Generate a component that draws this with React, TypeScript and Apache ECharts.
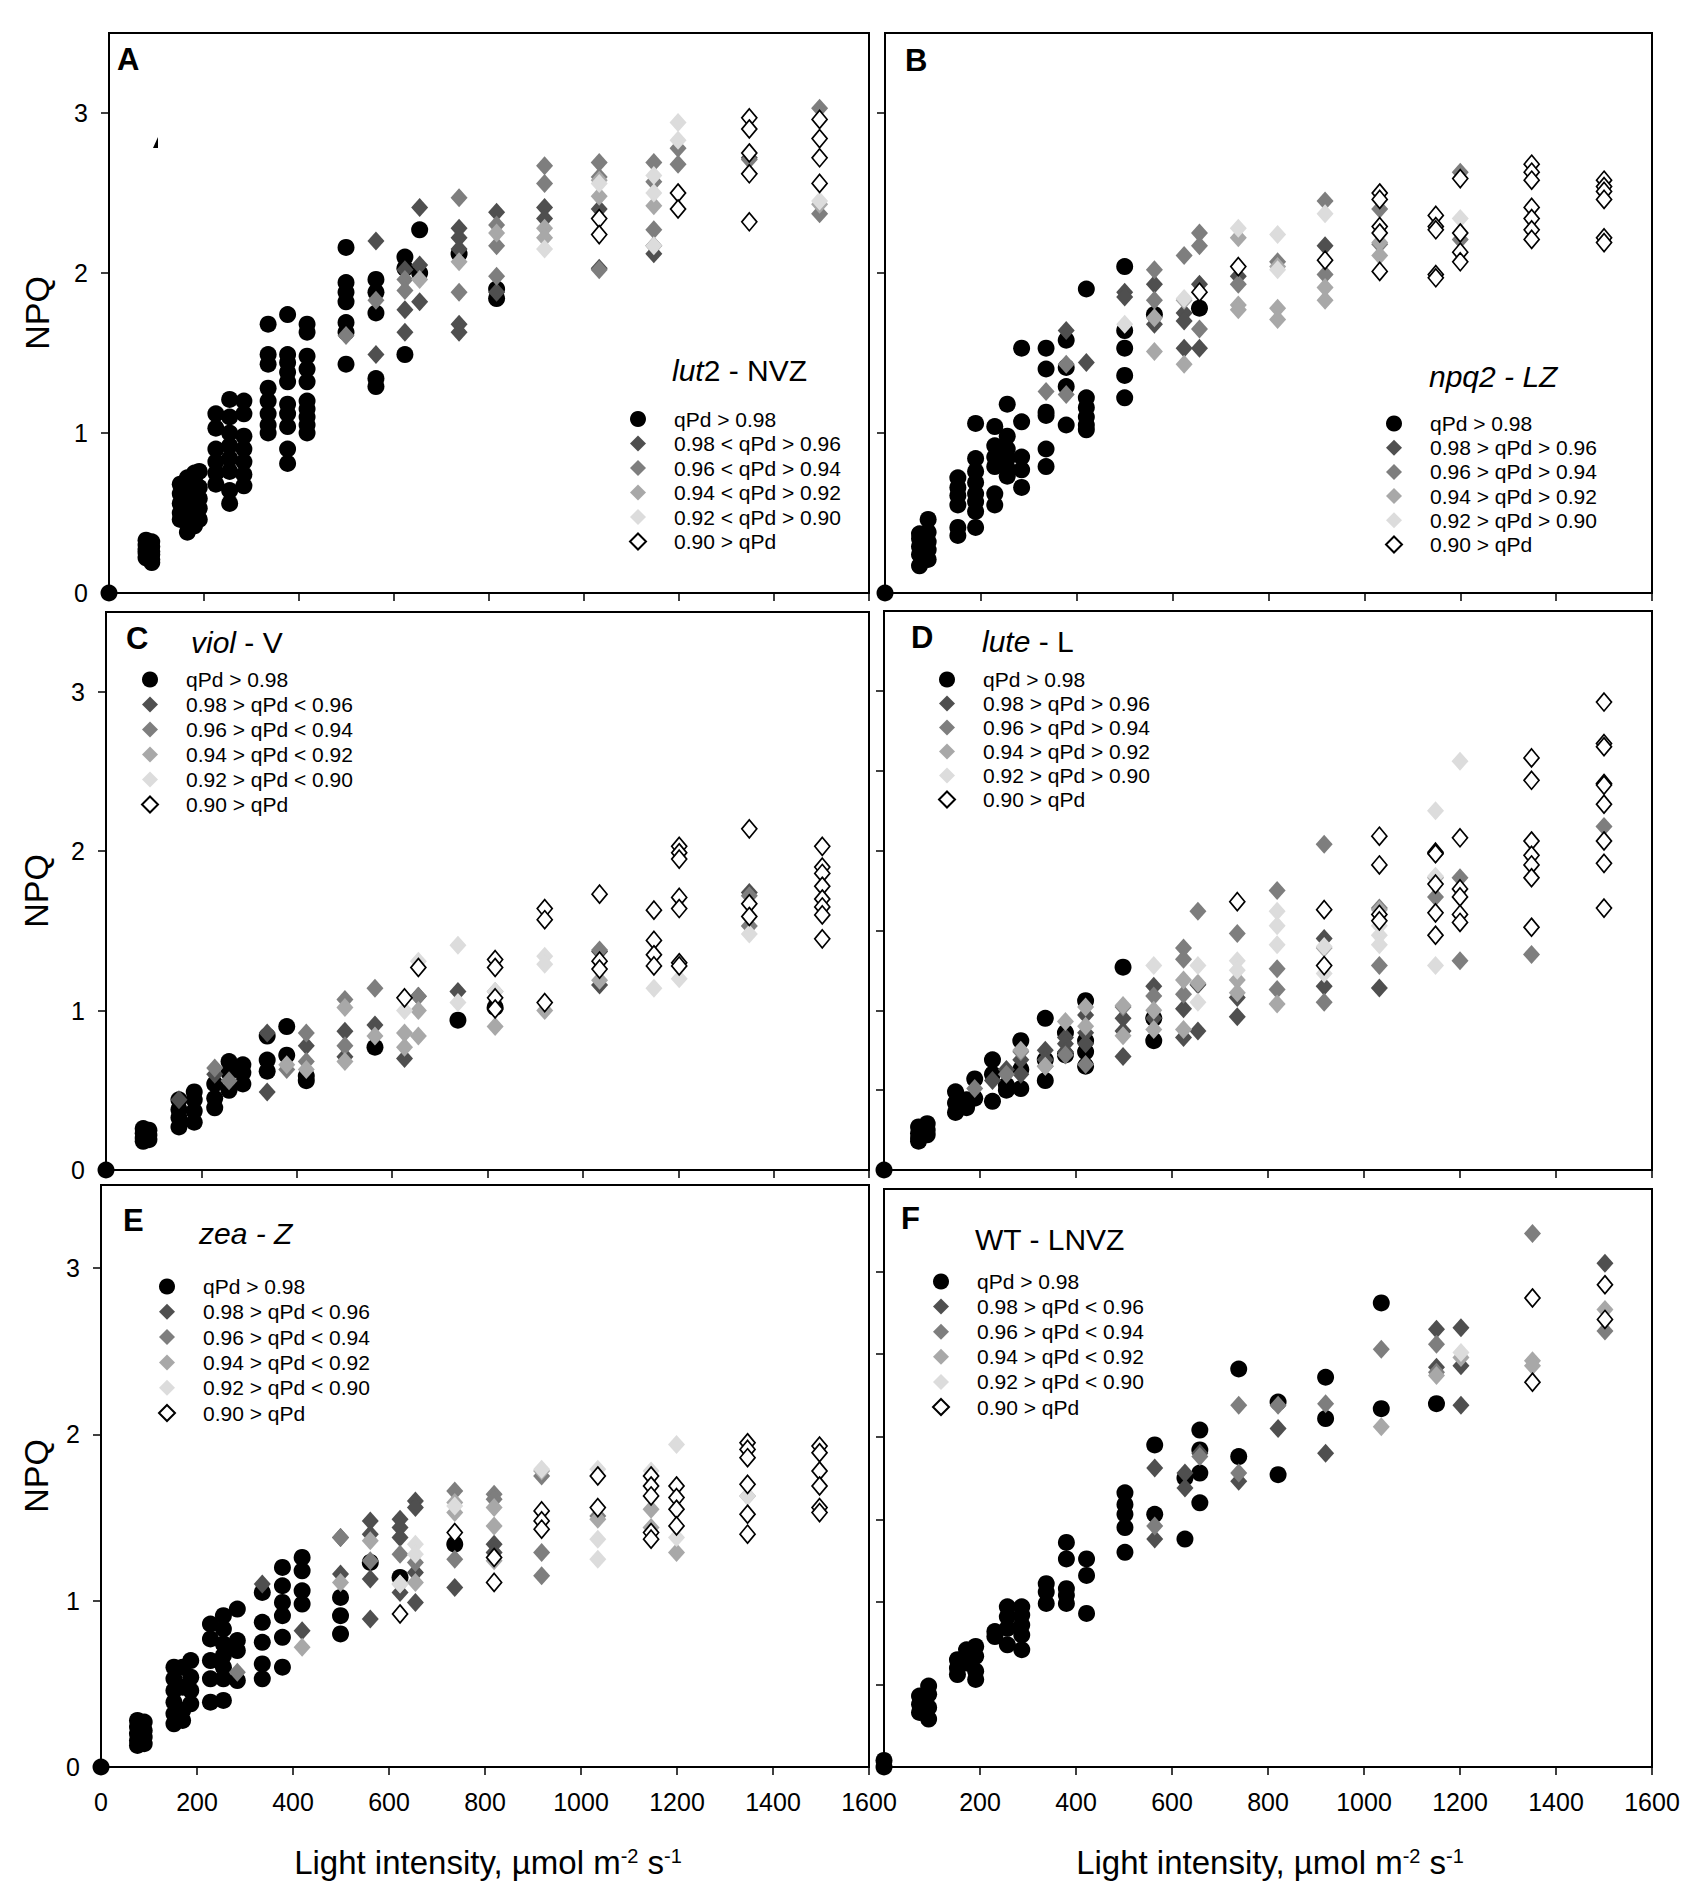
import React, { useEffect, useRef } from 'react';
import * as echarts from 'echarts';

type G = [number, number[]][];

const FONT = '"Liberation Sans", Arial, Helvetica, sans-serif';

const X_TICKS = [0, 200, 400, 600, 800, 1000, 1200, 1400, 1600];
const Y_INT = [0, 1, 2, 3];
const Y_HALF = [0, 0.5, 1, 1.5, 2, 2.5, 3];

const LEG_A = ['qPd > 0.98', '0.98 < qPd > 0.96', '0.96 < qPd > 0.94', '0.94 < qPd > 0.92', '0.92 < qPd > 0.90', '0.90 > qPd'];
const LEG_BD = ['qPd > 0.98', '0.98 > qPd > 0.96', '0.96 > qPd > 0.94', '0.94 > qPd > 0.92', '0.92 > qPd > 0.90', '0.90 > qPd'];
const LEG_CEF = ['qPd > 0.98', '0.98 > qPd < 0.96', '0.96 > qPd < 0.94', '0.94 > qPd < 0.92', '0.92 > qPd < 0.90', '0.90 > qPd'];

// ---------- Panel A : lut2 - NVZ ----------
const A_q98: G = [[0, [0]], [78, [0.33, 0.3, 0.27, 0.25, 0.22]], [90, [0.32, 0.29, 0.26, 0.24, 0.21, 0.19]],
  [150, [0.68, 0.62, 0.56, 0.5, 0.46]], [165, [0.72, 0.64, 0.58, 0.52, 0.44, 0.38]], [180, [0.75, 0.7, 0.6, 0.55, 0.48, 0.42]],
  [190, [0.76, 0.66, 0.59, 0.53, 0.46]], [225, [1.12, 1.03, 0.9, 0.82, 0.75, 0.68]], [254, [1.21, 1.1, 1.0, 0.92, 0.84, 0.76, 0.64, 0.56]],
  [284, [1.2, 1.12, 0.98, 0.9, 0.82, 0.74, 0.67]], [335, [1.68, 1.49, 1.43, 1.28, 1.2, 1.12, 1.05, 1.0]],
  [376, [1.74, 1.49, 1.44, 1.38, 1.32, 1.18, 1.12, 1.04, 0.9, 0.81]], [417, [1.68, 1.63, 1.48, 1.4, 1.32, 1.2, 1.15, 1.1, 1.05, 1.0]],
  [499, [2.16, 1.94, 1.88, 1.82, 1.69, 1.63, 1.43]], [562, [1.96, 1.88, 1.75, 1.34, 1.29]], [623, [2.1, 2.03, 1.49]],
  [654, [2.27, 2.0]], [737, [2.12]], [816, [1.9, 1.84]]];
const A_q96: G = [[562, [2.2, 1.49]], [623, [2.02, 1.77, 1.63]], [654, [2.41, 2.05, 1.82]], [737, [2.28, 2.22, 2.15, 1.68, 1.63]],
  [816, [2.38, 1.88]], [917, [2.41, 2.34]], [1032, [2.4, 2.03]], [1147, [2.17, 2.12]], [1348, [2.72]]];
const A_q94: G = [[499, [1.61]], [562, [1.83]], [623, [1.96, 1.89]], [737, [2.47, 1.88]], [816, [2.3, 2.17, 1.98]],
  [917, [2.67, 2.56]], [1032, [2.69, 2.6, 2.02]], [1147, [2.69, 2.57, 2.27]], [1198, [2.78, 2.68]], [1348, [2.71, 2.62]], [1496, [3.03, 2.37]]];
const A_q92: G = [[654, [1.96]], [737, [2.07]], [816, [2.25]], [917, [2.28, 2.22]], [1032, [2.48, 2.58]], [1147, [2.42]], [1496, [2.43]]];
const A_q90: G = [[917, [2.15]], [1032, [2.56]], [1147, [2.61, 2.5, 2.17]], [1198, [2.94, 2.83]], [1496, [2.45]]];
const A_open: G = [[1032, [2.34, 2.24]], [1198, [2.5, 2.4]], [1348, [2.97, 2.9, 2.75, 2.62, 2.32]], [1496, [2.96, 2.84, 2.72, 2.56]]];

// ---------- Panel B : npq2 - LZ ----------
const B_q98: G = [[0, [0]], [72, [0.37, 0.34, 0.29, 0.24, 0.17]], [90, [0.46, 0.38, 0.32, 0.27, 0.21]],
  [152, [0.72, 0.66, 0.61, 0.55, 0.41, 0.36]], [189, [1.06, 0.84, 0.76, 0.69, 0.62, 0.57, 0.51, 0.41]],
  [229, [1.04, 0.92, 0.85, 0.79, 0.62, 0.55]], [255, [1.18, 0.98, 0.9, 0.84, 0.78, 0.73]], [285, [1.53, 1.07, 0.85, 0.77, 0.66]],
  [336, [1.53, 1.4, 1.13, 1.11, 0.9, 0.79]], [378, [1.58, 1.41, 1.29, 1.05]], [420, [1.9, 1.22, 1.16, 1.1, 1.05, 1.02]],
  [500, [2.04, 1.64, 1.53, 1.36, 1.22]], [562, [1.74]], [656, [1.78]]];
const B_q96: G = [[378, [1.64]], [420, [1.44]], [500, [1.88, 1.85]], [562, [1.93, 1.68]], [624, [1.75, 1.7, 1.53]],
  [656, [1.93, 1.53]], [737, [1.98]], [918, [2.17]]];
const B_q94: G = [[336, [1.26]], [378, [1.43, 1.24]], [562, [2.02, 1.83]], [624, [2.11]], [656, [2.25, 2.17, 1.65]],
  [737, [1.93]], [819, [2.07]], [918, [2.45, 1.99]], [1032, [2.4, 2.18]], [1200, [2.63, 2.21]]];
const B_q92: G = [[562, [1.72, 1.51]], [624, [1.83, 1.43]], [737, [2.22, 1.8, 1.77]], [819, [2.04, 1.78, 1.71]],
  [918, [1.91, 1.83]], [1032, [2.19, 2.11]]];
const B_q90: G = [[500, [1.68]], [624, [1.84]], [737, [2.28]], [819, [2.24, 2.02]], [918, [2.37]], [1200, [2.34]]];
const B_open: G = [[656, [1.88]], [737, [2.04]], [918, [2.08]], [1032, [2.5, 2.46, 2.29, 2.25, 2.01]],
  [1149, [2.36, 2.29, 2.27, 1.99, 1.97]], [1200, [2.59, 2.25, 2.13, 2.07]], [1349, [2.68, 2.63, 2.58, 2.41, 2.34, 2.27, 2.21]],
  [1500, [2.58, 2.54, 2.51, 2.46, 2.22, 2.19]]];

// ---------- Panel C : viol - V ----------
const C_q98: G = [[0, [0]], [78, [0.26, 0.23, 0.2, 0.18]], [90, [0.25, 0.22, 0.19]], [153, [0.44, 0.38, 0.33, 0.27]],
  [185, [0.49, 0.44, 0.37, 0.3]], [228, [0.54, 0.45, 0.39]], [258, [0.68, 0.61, 0.5]], [287, [0.66, 0.61, 0.54]],
  [338, [0.84, 0.69, 0.62]], [379, [0.9, 0.72]], [420, [0.59, 0.56]], [564, [0.77]], [738, [0.94]], [816, [1.02]]];
const C_q96: G = [[153, [0.44]], [228, [0.6]], [338, [0.86, 0.49]], [420, [0.78]], [501, [0.87, 0.71]], [564, [0.91]],
  [626, [0.7]], [655, [1.09]], [738, [1.12]], [1035, [1.16, 1.37]], [1349, [1.74]]];
const C_q94: G = [[228, [0.64]], [258, [0.56]], [379, [0.63]], [420, [0.86, 0.68]], [501, [1.07, 0.78]], [564, [1.14]],
  [655, [1.09]], [1035, [1.38]], [1349, [1.72, 1.53]]];
const C_q92: G = [[379, [0.66]], [420, [0.63]], [501, [1.02, 0.68]], [564, [0.84]], [626, [0.86, 0.77]], [655, [1.0, 0.84]],
  [816, [1.12, 0.9]], [920, [1.0]], [1035, [1.19]]];
const C_q90: G = [[626, [1.0]], [655, [1.31]], [738, [1.41, 1.05]], [816, [1.12]], [920, [1.34, 1.29]], [1149, [1.14]],
  [1202, [1.2]], [1349, [1.48]]];
const C_open: G = [[626, [1.08]], [655, [1.27]], [816, [1.32, 1.27, 1.08, 1.01]], [920, [1.64, 1.57, 1.05]],
  [1035, [1.73, 1.31, 1.26]], [1149, [1.63, 1.44, 1.35, 1.28]], [1202, [2.03, 1.99, 1.95, 1.71, 1.64, 1.3, 1.28]],
  [1349, [2.14, 1.67, 1.59]], [1502, [2.03, 1.9, 1.86, 1.78, 1.7, 1.65, 1.6, 1.45]]];

// ---------- Panel D : lute - L ----------
const D_q98: G = [[0, [0]], [72, [0.27, 0.23, 0.2, 0.18]], [90, [0.29, 0.25, 0.22]], [149, [0.49, 0.42, 0.36]],
  [172, [0.44, 0.39]], [189, [0.57, 0.45]], [226, [0.69, 0.6, 0.43]], [255, [0.53, 0.5]], [285, [0.81, 0.63, 0.51]],
  [336, [0.95, 0.69, 0.56]], [378, [0.86, 0.72]], [420, [1.06, 0.81, 0.74, 0.65]], [498, [1.27]], [562, [0.95, 0.81]]];
const D_q96: G = [[226, [0.56]], [255, [0.63]], [285, [0.69, 0.6]], [336, [0.75, 0.69]], [378, [0.83, 0.79, 0.74]],
  [420, [0.97, 0.86, 0.79]], [498, [0.95, 0.87, 0.71]], [562, [1.15, 0.95]], [624, [1.01, 0.83]], [654, [1.16, 0.87]],
  [736, [1.08, 0.96]], [917, [1.45, 1.15]], [1032, [1.14]], [1149, [1.98]]];
const D_q94: G = [[189, [0.51]], [255, [0.6]], [285, [0.74]], [336, [0.65]], [378, [0.72]], [420, [0.66]], [498, [1.02]],
  [562, [1.09]], [624, [1.39, 1.32, 1.1]], [654, [1.62]], [736, [1.48]], [819, [1.75, 1.26, 1.13]], [917, [2.04, 1.05]],
  [1032, [1.64, 1.28]], [1149, [1.71]], [1200, [1.83, 1.31]], [1349, [1.35]], [1500, [2.15]]];
const D_q92: G = [[285, [0.75]], [336, [0.65]], [378, [0.93]], [420, [1.02, 0.9]], [498, [1.03, 0.84]], [562, [1.0, 0.88]],
  [624, [1.19, 0.88]], [654, [1.17]], [736, [1.19, 1.11]], [819, [1.04]], [917, [1.39]], [1032, [1.63]], [1149, [1.83]]];
const D_q90: G = [[562, [1.28]], [654, [1.28, 1.05]], [736, [1.31, 1.25]], [819, [1.62, 1.53, 1.41]], [917, [1.4, 1.23]],
  [1032, [1.53, 1.47, 1.41]], [1149, [2.25, 1.84, 1.28]], [1200, [2.56]]];
const D_open: G = [[736, [1.68]], [917, [1.63, 1.28]], [1032, [2.09, 1.91, 1.6, 1.56]], [1149, [1.99, 1.98, 1.79, 1.61, 1.47]],
  [1200, [2.08, 1.76, 1.71, 1.6, 1.55]], [1349, [2.58, 2.44, 2.06, 1.97, 1.91, 1.83, 1.52]],
  [1500, [2.93, 2.67, 2.65, 2.42, 2.41, 2.29, 2.06, 1.92, 1.64]]];

// ---------- Panel E : zea - Z ----------
const E_q98: G = [[0, [0]], [76, [0.28, 0.24, 0.2, 0.16, 0.13]], [90, [0.27, 0.22, 0.18, 0.14]],
  [152, [0.6, 0.53, 0.46, 0.39, 0.32, 0.26]], [170, [0.6, 0.48, 0.34, 0.28]], [187, [0.64, 0.54, 0.46, 0.38]],
  [228, [0.86, 0.77, 0.64, 0.53, 0.39]], [255, [0.91, 0.83, 0.74, 0.67, 0.6, 0.53, 0.4]], [284, [0.95, 0.76, 0.7, 0.52]],
  [336, [1.05, 0.87, 0.75, 0.62, 0.53]], [378, [1.2, 1.09, 0.99, 0.91, 0.78, 0.6]], [419, [1.26, 1.18, 1.06, 0.98]],
  [499, [1.02, 0.91, 0.8]], [561, [1.23]], [623, [1.14]], [737, [1.34]]];
const E_q96: G = [[336, [1.1]], [419, [0.82]], [499, [1.38, 1.16]], [561, [1.48, 1.4, 1.13, 0.89]],
  [623, [1.49, 1.44, 1.38, 1.05]], [655, [1.6, 1.56, 1.17, 0.99]], [737, [1.08]], [819, [1.34, 1.29]]];
const E_q94: G = [[284, [0.57]], [499, [1.38]], [561, [1.24]], [623, [1.28]], [655, [1.23]], [737, [1.66, 1.25]],
  [819, [1.64, 1.61]], [918, [1.75, 1.29, 1.15]], [1035, [1.51]]];
const E_q92: G = [[419, [0.72]], [499, [1.11]], [561, [1.36]], [623, [1.1]], [655, [1.11]], [737, [1.59, 1.53]],
  [819, [1.56, 1.45, 1.24]], [918, [1.78]], [1035, [1.49]], [1146, [1.55, 1.44]], [1199, [1.29]], [1347, [1.63]]];
const E_q90: G = [[623, [1.1]], [655, [1.34, 1.28]], [737, [1.57]], [918, [1.79]], [1035, [1.79, 1.37, 1.25]],
  [1146, [1.78]], [1199, [1.94, 1.38]], [1347, [1.63]]];
const E_open: G = [[623, [0.92]], [737, [1.41]], [819, [1.26, 1.11]], [918, [1.54, 1.48, 1.43]], [1035, [1.75, 1.56]],
  [1146, [1.75, 1.69, 1.63, 1.41, 1.37]], [1199, [1.69, 1.62, 1.55, 1.45]], [1347, [1.95, 1.91, 1.86, 1.7, 1.52, 1.4]],
  [1497, [1.93, 1.89, 1.78, 1.69, 1.56, 1.53]]];

// ---------- Panel F : WT - LNVZ ----------
const F_q98: G = [[0, [0.04, 0]], [74, [0.43, 0.38, 0.33]], [93, [0.49, 0.44, 0.36, 0.29]], [153, [0.65, 0.6, 0.56]],
  [172, [0.71, 0.63]], [191, [0.73, 0.67, 0.58, 0.53]], [231, [0.82, 0.79]], [257, [0.97, 0.91, 0.84, 0.74]],
  [287, [0.97, 0.92, 0.86, 0.8, 0.71]], [338, [1.11, 1.06, 0.99]], [380, [1.36, 1.26, 1.08, 1.04, 0.99]],
  [422, [1.26, 1.16, 0.93]], [502, [1.66, 1.59, 1.53, 1.45, 1.3]], [564, [1.95, 1.53]], [627, [1.75, 1.38]],
  [658, [2.04, 1.92, 1.78, 1.6]], [739, [2.41, 1.88]], [821, [2.21, 1.77]], [920, [2.36, 2.11]], [1036, [2.81, 2.17]],
  [1151, [2.2]]];
const F_q96: G = [[564, [1.81, 1.38]], [627, [1.78, 1.69]], [658, [1.9]], [739, [1.73]], [821, [2.05]], [920, [1.9]],
  [1151, [2.65, 2.42]], [1202, [2.66, 2.43, 2.19]], [1502, [3.05]]];
const F_q94: G = [[564, [1.46]], [658, [1.88]], [739, [2.19, 1.78]], [821, [2.19]], [920, [2.2]], [1036, [2.53]],
  [1151, [2.56, 2.39]], [1351, [3.23]], [1502, [2.64]]];
const F_q92: G = [[1036, [2.06]], [1151, [2.37]], [1202, [2.48]], [1351, [2.46, 2.43]], [1502, [2.77]]];
const F_q90: G = [[1202, [2.51]]];
const F_open: G = [[1351, [2.84, 2.33]], [1502, [2.92, 2.71]]];

const CAT_STYLES = [
  { symbol: 'circle', symbolSize: 17, itemStyle: { color: '#000000', opacity: 1 } },
  { symbol: 'diamond', symbolSize: [17, 19], itemStyle: { color: '#4f4f4f', opacity: 1 } },
  { symbol: 'diamond', symbolSize: [17, 19], itemStyle: { color: '#7e7e7e', opacity: 1 } },
  { symbol: 'diamond', symbolSize: [17, 19], itemStyle: { color: '#a8a8a8', opacity: 1 } },
  { symbol: 'diamond', symbolSize: [17, 19], itemStyle: { color: '#dcdcdc', opacity: 1 } },
  { symbol: 'diamond', symbolSize: [15, 18], itemStyle: { color: '#ffffff', borderColor: '#000000', borderWidth: 1.7, opacity: 1 } },
];

const PANELS = [
  { grid: { left: 109, top: 33, width: 760, height: 560 }, data: [A_q98, A_q96, A_q94, A_q92, A_q90, A_open], names: LEG_A,
    legend: { left: 629, top: 408.5, gap: 3.5 }, xLabels: false, yLabels: true, yTicks: Y_INT, hideX0: false },
  { grid: { left: 885, top: 33, width: 767, height: 560 }, data: [B_q98, B_q96, B_q94, B_q92, B_q90, B_open], names: LEG_BD,
    legend: { left: 1385, top: 413, gap: 3.2 }, xLabels: false, yLabels: false, yTicks: Y_INT, hideX0: false },
  { grid: { left: 106, top: 612, width: 763, height: 558 }, data: [C_q98, C_q96, C_q94, C_q92, C_q90, C_open], names: LEG_CEF,
    legend: { left: 141, top: 669, gap: 4 }, xLabels: false, yLabels: true, yTicks: Y_INT, hideX0: false },
  { grid: { left: 884, top: 611, width: 768, height: 559 }, data: [D_q98, D_q96, D_q94, D_q92, D_q90, D_open], names: LEG_BD,
    legend: { left: 938, top: 669, gap: 3 }, xLabels: false, yLabels: false, yTicks: Y_HALF, hideX0: false },
  { grid: { left: 101, top: 1185, width: 768, height: 582 }, data: [E_q98, E_q96, E_q94, E_q92, E_q90, E_open], names: LEG_CEF,
    legend: { left: 158, top: 1276, gap: 4.3 }, xLabels: true, yLabels: true, yTicks: Y_INT, hideX0: false },
  { grid: { left: 884, top: 1189, width: 768, height: 578 }, data: [F_q98, F_q96, F_q94, F_q92, F_q90, F_open], names: LEG_CEF,
    legend: { left: 932, top: 1271, gap: 4.1 }, xLabels: true, yLabels: false, yTicks: Y_HALF, hideX0: true },
];

const LETTERS = [
  { t: 'A', x: 117, y: 59 }, { t: 'B', x: 905, y: 60 }, { t: 'C', x: 126, y: 638 },
  { t: 'D', x: 911, y: 637 }, { t: 'E', x: 123, y: 1220 }, { t: 'F', x: 901, y: 1218 },
];
const GENOTYPES = [
  { t: '{i|lut}{n|2 - NVZ}', x: 672, y: 370 },
  { t: '{i|npq2 - LZ}', x: 1429, y: 376 },
  { t: '{i|viol}{n| - V}', x: 191, y: 642 },
  { t: '{i|lute}{n| - L}', x: 982, y: 641 },
  { t: '{i|zea - Z}', x: 199, y: 1233 },
  { t: '{n|WT - LNVZ}', x: 975, y: 1239 },
];
const NPQ_POS = [{ x: 37, y: 313 }, { x: 36, y: 891 }, { x: 36, y: 1476 }];
const XTITLE_POS = [{ x: 488, y: 1862 }, { x: 1270, y: 1862 }];
const XTITLE = '{a|Light intensity, µmol m}{s|-2}{a| s}{s|-1}';

const flat = (g: G) => g.flatMap(([x, ys]) => ys.map((y) => [x, y]));

function buildOption() {
  const grid: any[] = [];
  const xAxis: any[] = [];
  const yAxis: any[] = [];
  const series: any[] = [];
  const legend: any[] = [];
  PANELS.forEach((p, i) => {
    grid.push({ ...p.grid, show: true, borderColor: '#000', borderWidth: 2, backgroundColor: 'transparent', containLabel: false, outerBoundsMode: 'none' });
    xAxis.push({
      type: 'value', gridIndex: i, min: 0, max: 1600, interval: 200,
      axisLine: { show: true, onZero: false, lineStyle: { color: '#000', width: 2 } },
      axisTick: { show: true, inside: false, length: 8, customValues: X_TICKS, lineStyle: { color: '#000', width: 1.5 } },
      axisLabel: {
        show: p.xLabels, margin: 22, color: '#000', fontSize: 25, fontFamily: FONT,
        formatter: (v: number) => (p.hideX0 && v === 0 ? '' : String(v)),
      },
      splitLine: { show: false },
    });
    yAxis.push({
      type: 'value', gridIndex: i, min: 0, max: 3.5,
      axisLine: { show: true, onZero: false, lineStyle: { color: '#000', width: 2 } },
      axisTick: { show: true, inside: false, length: 8, customValues: p.yTicks, lineStyle: { color: '#000', width: 1.5 } },
      axisLabel: { show: p.yLabels, customValues: Y_INT, margin: 21, color: '#000', fontSize: 25, fontFamily: FONT },
      splitLine: { show: false },
    });
    p.data.forEach((g, c) => {
      series.push({
        type: 'scatter', name: p.names[c], xAxisIndex: i, yAxisIndex: i, clip: false,
        ...CAT_STYLES[c], data: flat(g), emphasis: { disabled: true }, z: 2 + c,
      });
    });
    legend.push({
      show: true, orient: 'vertical', left: p.legend.left, top: p.legend.top, itemGap: p.legend.gap,
      itemWidth: 16, itemHeight: 16, selectedMode: false, padding: 0,
      data: p.names,
      textStyle: { fontSize: 21, lineHeight: 21, color: '#000', fontFamily: FONT, padding: [0, 0, 0, 23] },
    });
  });

  const graphic: any[] = [];
  LETTERS.forEach((l) => graphic.push({
    type: 'text', x: l.x, y: l.y, silent: true,
    style: { text: l.t, fill: '#000', fontSize: 31, fontWeight: 'bold', fontFamily: FONT, align: 'left', verticalAlign: 'middle', textAlign: 'left', textVerticalAlign: 'middle' },
  }));
  GENOTYPES.forEach((gt) => graphic.push({
    type: 'text', x: gt.x, y: gt.y, silent: true,
    style: {
      text: gt.t, fill: '#000', fontSize: 30, fontFamily: FONT, align: 'left', verticalAlign: 'middle', textAlign: 'left', textVerticalAlign: 'middle',
      rich: { i: { fontSize: 30, fontStyle: 'italic', fontFamily: FONT, fill: '#000' }, n: { fontSize: 30, fontFamily: FONT, fill: '#000' } },
    },
  }));
  NPQ_POS.forEach((n) => graphic.push({
    type: 'text', x: n.x, y: n.y, rotation: Math.PI / 2, silent: true,
    style: { text: 'NPQ', fill: '#000', fontSize: 34, fontFamily: FONT, align: 'center', verticalAlign: 'middle', textAlign: 'center', textVerticalAlign: 'middle' },
  }));
  XTITLE_POS.forEach((t) => graphic.push({
    type: 'text', x: t.x, y: t.y, silent: true,
    style: {
      text: XTITLE, fill: '#000', fontSize: 33, fontFamily: FONT, align: 'center', verticalAlign: 'middle', textAlign: 'center', textVerticalAlign: 'middle',
      rich: { a: { fontSize: 33, fontFamily: FONT, fill: '#000' }, s: { fontSize: 20, fontFamily: FONT, fill: '#000', verticalAlign: 'top' } },
    },
  }));
  graphic.push({ type: 'polygon', silent: true, shape: { points: [[153, 148], [158, 137], [158, 148]] }, style: { fill: '#000' } });

  return {
    animation: false,
    backgroundColor: '#ffffff',
    textStyle: { fontFamily: FONT },
    grid, xAxis, yAxis, series, legend, graphic,
  };
}

export default function App() {
  const ref = useRef<HTMLDivElement>(null);
  useEffect(() => {
    if (!ref.current) return;
    const chart = echarts.init(ref.current, undefined, { renderer: 'svg' });
    chart.setOption(buildOption() as any);
    return () => chart.dispose();
  }, []);
  return <div ref={ref} style={{ position: 'absolute', left: 0, top: 0, width: 1700, height: 1891, background: '#fff' }} />;
}
